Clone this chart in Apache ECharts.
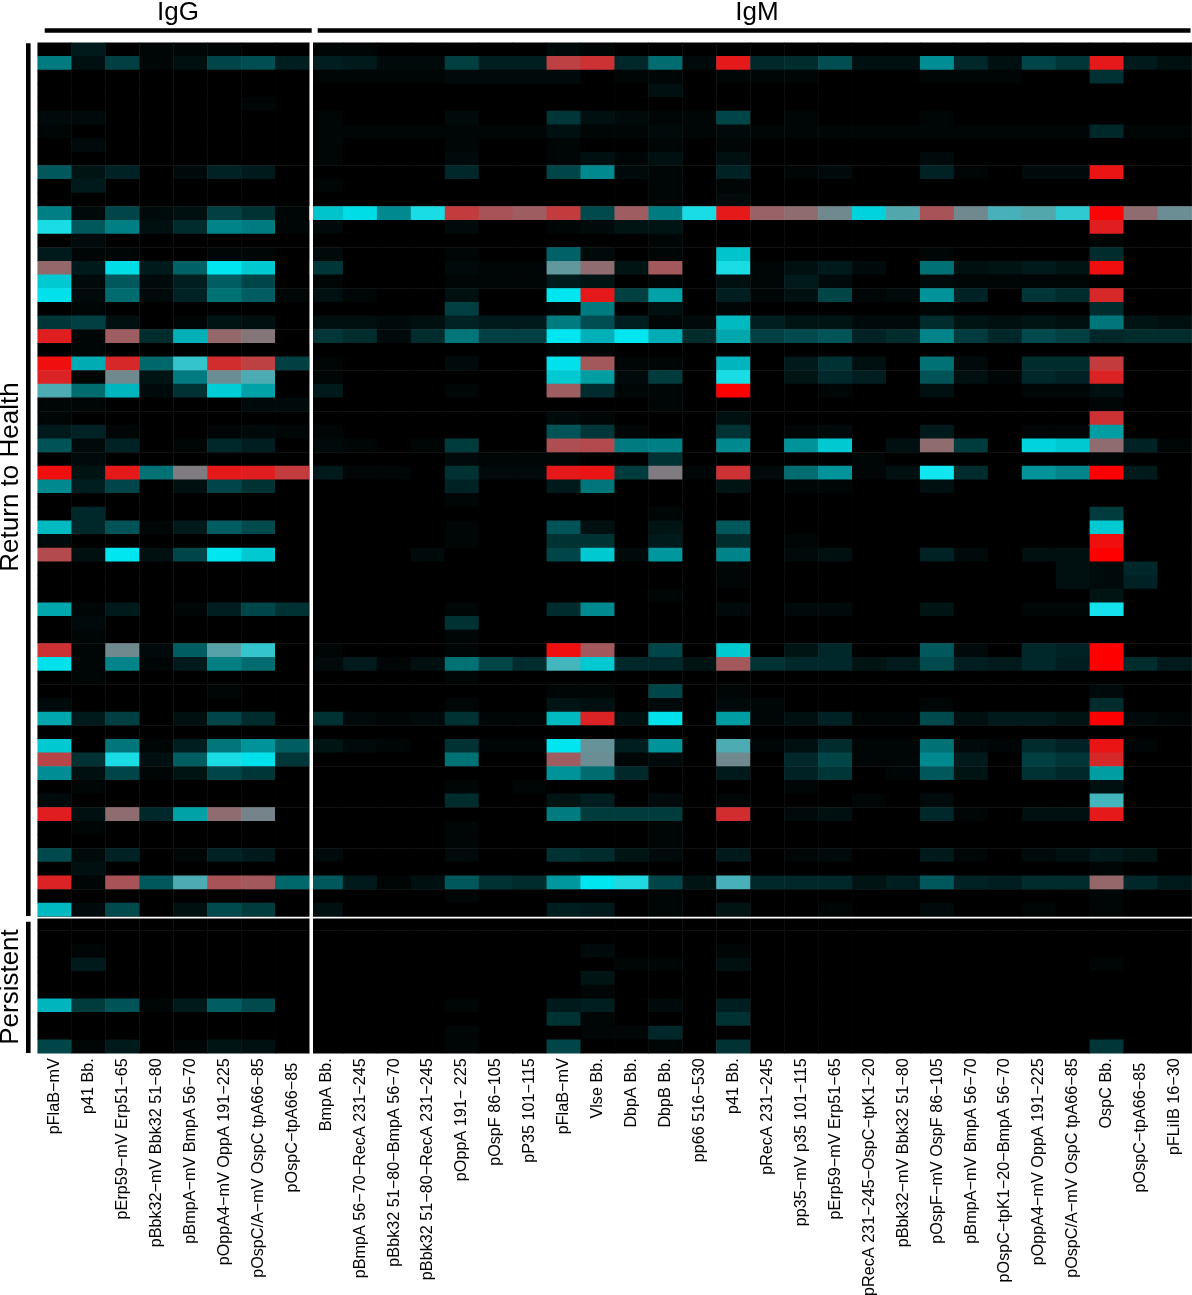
<!DOCTYPE html>
<html>
<head>
<meta charset="utf-8">
<title>IgG IgM heatmap</title>
<script src="https://cdn.jsdelivr.net/npm/echarts@6/dist/echarts.min.js"></script>
<style>
html, body { margin: 0; padding: 0; background: #fff; }
#main { width: 1192px; height: 1295px; }
</style>
</head>
<body>
<div id="main"></div>
<script>
// antigen names, left to right
var iggLabels = ['pFlaB−mV', 'p41 Bb.', 'pErp59−mV Erp51−65', 'pBbk32−mV Bbk32 51−80', 'pBmpA−mV BmpA 56−70',
    'pOppA4−mV OppA 191−225', 'pOspC/A−mV OspC tpA66−85', 'pOspC−tpA66−85 '];
var igmLabels = ['BmpA Bb.', 'pBmpA 56−70−RecA 231−245', 'pBbk32 51−80−BmpA 56−70', 'pBbk32 51−80−RecA 231−245',
    'pOppA 191− 225', 'pOspF 86−105', 'pP35 101−115', 'pFlaB−mV', 'Vlse Bb.', 'DbpA Bb.', 'DbpB Bb.', 'pp66 516−530',
    'p41 Bb.', 'pRecA 231−245', 'pp35−mV p35 101−115', 'pErp59−mV Erp51−65', 'pRecA 231−245−OspC−tpK1−20',
    'pBbk32−mV Bbk32 51−80', 'pOspF−mV OspF 86−105', 'pBmpA−mV BmpA 56−70', 'pOspC−tpK1−20−BmpA 56−70',
    'pOppA4−mV OppA 191−225', 'pOspC/A−mV OspC tpA66−85', 'OspC Bb.', 'pOspC−tpA66−85 ', 'pFLiIB 16−30'];

// 0 = black, 50 = cyan, 100 = red. First 8 columns IgG, other 26 IgM
var returnToHealth = [
    [0,5,0,1,1,1,0,0, 1,1,0,0,0,0,0,2,1,0,0,0,0,0,0,0,0,0,0,0,0,0,0,0,0,0],
    [25,3,13,1,3,14,16,6, 6,5,2,2,13,6,6,87,90,8,22,2,95,8,9,16,3,3,29,8,3,14,11,95,5,3],
    [0,0,0,0,0,0,0,0, 1,1,1,1,2,2,2,2,0,1,1,0,1,1,1,0,0,0,1,1,1,0,0,10,0,0],
    [0,0,0,0,0,0,0,0, 0,0,0,0,0,0,0,0,0,0,3,0,0,0,0,0,0,0,0,0,0,0,0,0,0,0],
    [0,0,0,0,0,0,1,0, 0,0,0,0,0,0,0,0,0,0,0,0,0,0,0,0,0,0,0,0,0,0,0,0,0,0],
    [2,2,0,0,0,0,0,0, 1,0,0,0,2,0,0,11,3,2,1,1,14,0,1,0,0,0,1,0,0,0,0,0,0,0],
    [1,0,0,0,0,0,0,0, 1,1,1,1,1,1,1,3,1,1,2,1,2,1,1,1,1,1,1,1,1,1,1,8,1,1],
    [0,2,0,0,0,0,0,0, 1,0,0,0,1,0,0,1,0,0,1,0,1,0,0,0,0,0,0,0,0,0,0,0,0,0],
    [0,0,0,0,0,0,0,0, 1,0,0,0,2,0,0,1,3,1,3,0,3,0,0,0,0,0,2,0,0,0,0,0,0,0],
    [18,4,7,0,2,7,5,0, 0,0,0,0,8,0,0,14,28,2,1,0,7,0,1,2,0,0,7,1,0,2,2,96,0,0],
    [0,5,0,0,0,0,0,0, 1,0,0,0,0,0,0,0,0,0,1,0,1,0,0,0,0,0,0,0,0,0,0,0,0,0],
    [0,0,0,0,0,0,0,0, 0,0,0,0,0,0,0,0,0,0,1,0,2,0,0,0,0,0,0,0,0,0,0,0,0,0],
    [26,2,14,2,3,13,10,1, 40,45,28,55,88,83,81,88,15,81,25,55,95,80,78,72,43,66,83,72,64,66,59,99,78,71],
    [55,18,26,3,9,27,25,1, 2,0,0,0,2,0,0,1,2,4,4,0,0,0,0,0,0,0,0,0,0,0,0,94,0,0],
    [0,2,0,0,0,0,0,0, 0,0,0,0,0,0,0,0,0,0,1,0,0,0,0,0,0,0,0,0,0,0,0,1,0,0],
    [5,1,1,0,0,1,1,0, 2,0,0,0,1,0,0,20,2,0,1,0,40,0,0,0,0,0,1,0,0,0,0,9,0,0],
    [79,5,45,5,20,47,41,0, 11,0,0,0,2,1,1,69,78,4,82,0,55,1,3,5,2,0,23,3,4,5,4,97,0,0],
    [41,2,18,2,6,19,14,0, 1,0,0,0,1,1,1,5,4,0,1,0,3,1,5,2,0,0,2,1,1,1,1,0,0,0],
    [46,2,22,2,7,23,19,1, 3,1,0,0,3,0,0,47,95,13,33,0,6,1,3,14,1,2,30,7,0,11,9,92,0,0],
    [0,1,0,0,0,0,0,0, 0,0,0,0,13,0,0,1,25,0,3,0,1,0,0,0,0,0,1,0,0,0,0,9,0,0],
    [11,13,3,0,1,4,3,0, 3,3,2,3,7,5,5,25,16,6,1,2,38,6,4,4,2,2,9,4,3,4,3,24,4,3],
    [94,1,81,9,36,79,76,0, 11,9,2,9,24,13,13,47,36,47,35,9,34,13,15,17,7,9,27,12,8,15,13,8,9,9],
    [0,1,0,0,0,0,0,0, 0,0,0,0,0,0,0,1,1,0,0,0,0,0,0,0,0,0,0,0,0,0,0,0,0,0],
    [97,35,92,21,60,91,87,13, 1,0,0,0,2,0,0,46,82,1,1,0,37,0,5,10,3,0,23,2,0,9,9,88,0,0],
    [93,1,72,4,25,71,65,0, 1,0,0,0,0,0,0,41,32,2,12,0,55,0,4,8,6,0,17,3,1,8,7,93,0,0],
    [65,22,37,2,10,42,33,0, 5,0,0,0,1,0,0,81,9,1,1,0,100,0,0,1,0,0,3,0,0,1,1,3,0,0],
    [1,1,0,0,0,0,2,2, 0,0,0,0,0,0,0,0,0,0,1,0,0,0,0,0,0,0,0,0,0,0,0,1,0,0],
    [1,0,0,0,0,0,0,0, 0,0,0,0,0,0,0,2,1,0,0,0,3,0,0,0,0,0,0,0,0,0,0,90,0,0],
    [5,7,1,0,0,1,2,1, 1,0,0,0,0,0,0,17,11,1,0,0,10,0,1,2,0,0,5,0,0,1,1,32,0,0],
    [17,2,7,0,1,8,6,0, 2,1,0,1,12,0,0,84,85,25,26,0,28,0,30,41,0,3,78,12,0,43,41,78,7,1],
    [0,2,0,0,0,0,0,0, 0,0,0,0,2,1,1,1,0,0,10,0,0,0,0,0,1,0,0,0,0,0,0,1,0,0],
    [97,4,95,23,75,95,94,88, 5,1,1,0,10,2,2,95,96,12,75,1,90,2,22,30,1,3,53,9,0,30,27,100,5,0],
    [28,6,14,0,3,14,10,0, 0,0,0,0,7,0,0,5,24,0,0,0,4,0,1,1,0,0,3,0,0,0,0,0,0,0],
    [0,0,0,0,0,0,0,0, 0,0,0,0,1,0,0,0,0,0,0,0,0,0,0,0,0,0,0,0,0,0,0,0,0,0],
    [0,8,0,0,0,0,0,0, 0,0,0,0,0,0,0,0,0,0,1,0,0,0,0,0,0,0,0,0,0,0,0,12,0,0],
    [38,8,17,1,5,19,15,0, 0,0,0,0,1,0,0,17,3,0,4,0,18,0,0,0,0,0,0,0,0,0,0,41,0,0],
    [2,0,0,0,0,0,0,0, 0,0,0,0,1,0,0,10,10,0,5,0,9,0,1,0,0,0,0,0,0,0,0,97,0,0],
    [85,3,47,3,14,47,41,0, 0,0,0,2,0,0,0,14,41,2,31,0,27,0,2,3,0,0,7,2,0,3,3,100,0,0],
    [0,0,0,0,0,0,0,0, 0,0,0,0,0,0,0,0,0,0,0,0,1,0,0,0,0,0,0,0,0,0,3,2,8,0],
    [0,0,0,0,0,0,0,0, 0,0,0,0,0,0,0,0,0,0,0,0,1,0,0,0,0,0,0,0,0,0,3,2,7,0],
    [0,0,0,0,0,0,0,0, 0,0,0,0,0,0,0,0,0,0,1,0,0,0,0,0,0,0,0,0,0,0,0,4,0,0],
    [34,1,5,0,1,6,14,10, 0,0,0,0,1,0,0,9,28,0,0,0,2,0,2,2,0,0,4,0,0,1,1,54,0,0],
    [0,2,0,0,0,0,0,0, 0,0,0,0,10,0,0,0,0,0,0,0,0,0,0,0,0,0,0,0,0,0,0,0,0,0],
    [0,1,0,0,0,0,0,0, 0,0,0,0,1,0,0,0,0,0,0,0,0,0,0,0,0,0,0,0,0,0,0,0,0,0],
    [90,1,72,2,19,67,60,0, 1,0,0,0,1,0,0,97,82,0,14,0,41,0,4,8,0,0,18,2,0,8,7,100,0,0],
    [46,1,27,1,5,26,22,0, 2,5,1,3,23,14,9,63,41,8,8,4,82,10,8,8,4,5,15,6,5,8,6,100,9,5],
    [0,1,0,0,0,0,0,0, 0,0,0,0,1,0,0,0,0,0,0,0,0,0,0,0,0,0,0,0,0,0,0,0,0,0],
    [0,0,0,0,0,1,0,0, 0,0,0,0,0,0,0,1,1,0,14,0,1,0,0,0,0,0,0,0,0,0,0,2,0,0],
    [2,0,0,0,0,0,0,0, 0,0,0,0,1,0,0,4,3,0,2,0,2,1,0,0,0,0,1,0,0,0,0,9,0,0],
    [34,5,13,0,3,14,9,0, 10,2,1,2,10,1,1,38,93,3,46,0,32,1,3,7,1,1,15,3,5,5,4,100,2,1],
    [0,0,0,0,0,0,0,0, 0,0,0,0,0,0,0,0,0,0,0,0,0,0,0,0,0,0,0,0,0,0,0,0,0,0],
    [41,0,24,1,6,24,30,19, 4,2,1,0,10,1,1,47,70,6,30,0,65,1,3,9,1,1,23,2,1,9,7,96,1,0],
    [86,10,55,3,19,55,46,11, 0,0,0,0,23,0,0,81,71,1,2,0,72,0,8,14,1,1,28,5,0,13,11,92,0,0],
    [29,3,14,1,4,14,11,0, 0,0,0,0,0,0,0,30,22,8,0,0,5,0,7,11,0,1,18,4,0,10,8,32,0,0],
    [0,1,0,0,0,0,0,0, 0,0,0,0,1,0,1,0,0,0,0,0,0,0,1,0,0,0,0,0,0,0,0,3,0,0],
    [2,0,0,0,0,0,0,0, 0,0,0,0,9,0,0,4,6,0,2,0,1,0,0,0,1,0,2,0,0,0,0,63,0,0],
    [94,3,78,8,33,78,73,0, 0,0,0,0,0,0,0,25,12,12,12,0,91,0,2,3,0,0,8,1,0,3,3,95,0,0],
    [0,1,0,0,0,0,0,0, 0,0,0,0,1,0,0,0,0,0,1,0,0,0,0,0,0,0,0,0,0,0,0,0,0,0],
    [0,0,0,0,0,0,0,0, 0,0,0,0,1,0,0,0,0,0,1,0,0,0,0,0,0,0,0,0,0,0,0,0,0,0],
    [15,2,7,0,1,7,5,0, 2,0,0,0,2,0,0,10,9,4,2,0,5,0,1,2,0,0,5,1,0,2,3,5,4,0],
    [0,3,0,0,0,0,0,0, 0,0,0,0,0,0,0,0,0,0,0,0,0,0,0,0,0,0,0,0,0,0,0,1,0,0],
    [93,1,83,18,65,83,82,21, 18,5,1,3,18,10,9,31,47,56,14,4,64,8,8,8,4,6,18,7,6,9,9,79,8,5],
    [0,0,0,0,0,0,0,0, 0,0,0,0,1,0,0,0,0,0,1,0,0,0,0,0,0,0,0,0,0,0,0,1,0,0],
    [38,2,15,0,3,15,12,0, 3,0,0,0,0,0,0,6,5,0,1,0,4,0,0,1,0,0,2,0,0,1,0,1,0,0]
];
var persistent = [
    [0,0,0,0,0,0,0,0, 0,0,0,0,0,0,0,0,0,0,0,0,0,0,0,0,0,0,0,0,0,0,0,0,0,0],
    [0,0,0,0,0,0,0,0, 0,0,0,0,0,0,0,0,0,0,0,0,0,0,0,0,0,0,0,0,0,0,0,0,0,0],
    [0,1,0,0,0,0,0,0, 0,0,0,0,0,0,0,0,2,0,0,0,1,0,0,0,0,0,0,0,0,0,0,0,0,0],
    [0,5,0,0,0,0,0,0, 0,0,0,0,0,0,0,0,0,1,1,0,3,0,0,0,0,0,0,0,0,0,0,1,0,0],
    [0,0,0,0,0,0,0,0, 0,0,0,0,0,0,0,0,4,0,0,0,0,0,0,0,0,0,0,0,0,0,0,0,0,0],
    [0,0,0,0,0,0,0,0, 0,0,0,0,0,0,0,0,1,0,0,0,0,0,0,0,0,0,0,0,0,0,0,0,0,0],
    [37,12,17,1,5,19,15,0, 0,0,0,0,1,0,0,5,6,0,2,0,6,0,0,0,0,0,0,0,0,0,0,0,0,0],
    [0,0,0,0,0,0,0,0, 0,0,0,0,0,0,0,10,1,0,0,0,10,0,0,0,0,0,0,0,0,0,0,0,0,0],
    [0,0,0,0,0,0,0,0, 0,0,0,0,1,0,0,0,1,1,8,0,0,0,0,0,0,0,0,0,0,0,0,0,0,0],
    [14,1,5,0,1,4,3,0, 0,0,0,0,1,0,0,14,0,0,1,0,10,0,0,0,0,0,0,0,0,0,0,11,0,0]
];

var columnLabels = iggLabels.concat(igmLabels);
var allRows = returnToHealth.concat(persistent);

function buildCells(rows) {
    var cells = [];
    rows.forEach(function (row, y) {
        row.forEach(function (value, x) {
            cells.push([x, y, value]);
        });
    });
    return cells;
}

function rowNames(count) {
    var names = [];
    for (var i = 0; i < count; i++) names.push('row' + (i + 1));
    return names;
}

function bar(x, y, w, h, color) {
    return { type: 'rect', z: 100, shape: { x: x, y: y, width: w, height: h }, style: { fill: color } };
}

function label(text, x, y, rotation) {
    return {
        type: 'text', z: 100, x: x, y: y, rotation: rotation || 0,
        style: {
            text: text, fill: '#000', fontSize: 26, fontFamily: 'Liberation Sans',
            align: 'center', verticalAlign: 'middle'
        }
    };
}

var chart = echarts.init(document.getElementById('main'), null, { renderer: 'canvas' });
chart.setOption({
    animation: false,
    backgroundColor: '#fff',
    grid: { left: 37.7, top: 42.7, width: 1154, height: 1010.6, outerBoundsMode: 'none' },
    xAxis: {
        type: 'category',
        data: columnLabels,
        axisLine: { show: false },
        axisTick: { show: false },
        splitLine: { show: false },
        axisLabel: {
            interval: 0,
            rotate: 90,
            margin: 5,
            hideOverlap: false,
            color: '#000',
            fontSize: 16.2,
            fontFamily: 'Liberation Sans'
        }
    },
    yAxis: {
        type: 'category',
        inverse: true,
        data: rowNames(allRows.length),
        axisLine: { show: false },
        axisTick: { show: false },
        axisLabel: { show: false },
        splitLine: { show: false }
    },
    visualMap: {
        show: false,
        min: 0,
        max: 100,
        dimension: 2,
        inRange: { color: ['#000000', '#00f5ff', '#ff0000'] }
    },
    series: [{
        type: 'heatmap',
        data: buildCells(allRows),
        emphasis: { disabled: true },
        progressive: 0,
        itemStyle: { borderWidth: 0 }
    }],
    graphic: [
        // white separators between IgG / IgM and the two groups
        bar(309.5, 42, 3.5, 1012, '#fff'),
        bar(37, 916.8, 1155, 1.6, '#fff'),
        // brackets
        bar(44.7, 28.3, 267, 4.4, '#000'),
        bar(317.7, 28.3, 872.8, 4.4, '#000'),
        bar(26, 43.3, 4.6, 872.7, '#000'),
        bar(26, 921.7, 4.6, 131.3, '#000'),
        label('IgG', 178, 13),
        label('IgM', 757, 13),
        label('Return to Health', 11, 477, Math.PI / 2),
        label('Persistent', 11, 987, Math.PI / 2)
    ]
});
</script>
</body>
</html>
